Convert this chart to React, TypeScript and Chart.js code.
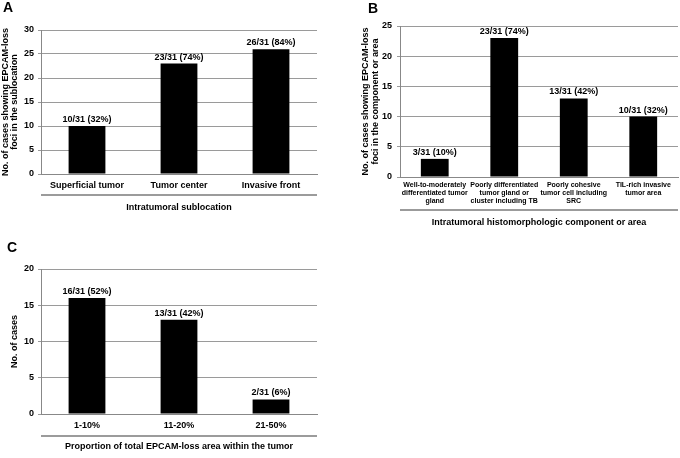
import React, { useEffect, useRef } from "react";
import { Chart, registerables } from "chart.js";
Chart.register(...registerables);

const FONT = '"Liberation Sans", Arial, Helvetica, sans-serif';
Chart.defaults.font.family = FONT;

const catsA = ["Superficial tumor", "Tumor center", "Invasive front"];
const valsA = [10, 23, 26];
const labelsA = ["10/31 (32%)", "23/31 (74%)", "26/31 (84%)"];

const catsB = [
  ["Well-to-moderately", "differentiated tumor", "gland"],
  ["Poorly differentiated", "tumor gland or", "cluster including TB"],
  ["Poorly cohesive", "tumor cell including", "SRC"],
  ["TIL-rich invasive", "tumor area"],
];
const valsB = [3, 23, 13, 10];
const labelsB = ["3/31 (10%)", "23/31 (74%)", "13/31 (42%)", "10/31 (32%)"];

const catsC = ["1-10%", "11-20%", "21-50%"];
const valsC = [16, 13, 2];
const labelsC = ["16/31 (52%)", "13/31 (42%)", "2/31 (6%)"];

const extras = {
  id: "extras",
  afterDatasetsDraw(chart: any, _args: any, opts: any) {
    const ctx = chart.ctx;
    const meta = chart.getDatasetMeta(0);
    ctx.save();
    ctx.font = `bold 9px ${FONT}`;
    ctx.fillStyle = "#000";
    ctx.textAlign = "center";
    ctx.textBaseline = "bottom";
    meta.data.forEach((el: any, i: number) => {
      ctx.fillText(opts.labels[i], el.x, el.y - 2);
    });
    const { left, right, bottom } = chart.chartArea;
    ctx.strokeStyle = "#7a7a7a";
    ctx.lineWidth = 1.5;
    ctx.beginPath();
    ctx.moveTo(left, bottom + opts.sep);
    ctx.lineTo(right, bottom + opts.sep);
    ctx.stroke();
    ctx.restore();
  },
};

function Panel(p: any) {
  const ref = useRef<HTMLCanvasElement>(null);
  useEffect(() => {
    const chart = new Chart(ref.current as HTMLCanvasElement, {
      type: "bar",
      data: {
        labels: p.cats,
        datasets: [
          {
            data: p.vals,
            backgroundColor: "#000",
            borderWidth: 0,
            categoryPercentage: 1,
            barPercentage: 0.4,
          },
        ],
      },
      options: {
        responsive: false,
        maintainAspectRatio: false,
        animation: false,
        layout: { padding: { top: p.padTop, right: p.padRight, left: 0, bottom: 0 } },
        plugins: {
          legend: { display: false },
          tooltip: { enabled: false },
          extras: { labels: p.labels, sep: p.sep },
        } as any,
        scales: {
          x: {
            grid: { display: true, drawOnChartArea: false, drawTicks: false },
            border: { color: "#888", width: 1 },
            ticks: {
              font: p.xTickFont,
              color: "#000",
              padding: p.xTickPad,
              maxRotation: 0,
              autoSkip: false,
            },
            title: {
              display: true,
              text: p.xTitle,
              color: "#000",
              font: { size: 9, weight: "bold", lineHeight: 1.1 },
              padding: { top: 0, bottom: p.xTitlePadBottom },
            },
            afterFit: (s: any) => {
              s.height = p.xHeight;
            },
          },
          y: {
            min: 0,
            max: p.yMax,
            ticks: {
              stepSize: 5,
              color: "#000",
              font: { size: 9, weight: "bold" },
              padding: p.yTickPad,
            },
            grid: { color: "#9a9a9a", tickLength: 3, lineWidth: 1 },
            border: { color: "#888", width: 1 },
            title: {
              display: true,
              text: p.yTitle,
              color: "#000",
              font: { size: 9, weight: "bold", lineHeight: p.yTitleLH },
              padding: { top: p.yTitlePad, bottom: 0 },
            },
            afterFit: (s: any) => {
              s.width = p.yWidth;
            },
          },
        } as any,
      },
      plugins: [extras],
    });
    return () => chart.destroy();
  }, []);
  return (
    <canvas
      ref={ref}
      width={p.width}
      height={p.height}
      style={{ position: "absolute", left: p.left, top: p.top, width: p.width, height: p.height }}
    />
  );
}

const letterStyle: any = {
  position: "absolute",
  fontFamily: FONT,
  fontWeight: "bold",
  fontSize: 14,
  lineHeight: "14px",
  color: "#000",
};

export default function App() {
  useEffect(() => {
    document.body.style.margin = "0";
    document.body.style.background = "#fff";
  }, []);
  return (
    <div style={{ position: "relative", width: 680, height: 458, background: "#fff", overflow: "hidden" }}>
      <Panel
        left={0}
        top={0}
        width={340}
        height={225}
        cats={catsA}
        vals={valsA}
        labels={labelsA}
        yMax={30}
        padTop={30}
        padRight={23}
        yWidth={41}
        xHeight={51}
        yTitle={["No. of cases showing EPCAM-loss", "foci in the sublocation"]}
        yTitleLH={1}
        yTitlePad={1}
        yTickPad={4}
        xTitle="Intratumoral sublocation"
        xTickFont={{ size: 9, weight: "bold" }}
        xTickPad={6}
        xTitlePadBottom={13}
        sep={21}
      />
      <Panel
        left={340}
        top={0}
        width={340}
        height={240}
        cats={catsB}
        vals={valsB}
        labels={labelsB}
        yMax={25}
        padTop={26}
        padRight={2}
        yWidth={60}
        xHeight={63}
        yTitle={["No. of cases showing EPCAM-loss", "foci in the component or area"]}
        yTitleLH={1.1}
        yTitlePad={21}
        yTickPad={5}
        xTitle="Intratumoral histomorphologic component or area"
        xTickFont={{ size: 7, weight: "bold", lineHeight: 1.15 }}
        xTickPad={4}
        xTitlePadBottom={13}
        sep={33}
      />
      <Panel
        left={0}
        top={230}
        width={340}
        height={228}
        cats={catsC}
        vals={valsC}
        labels={labelsC}
        yMax={20}
        padTop={39}
        padRight={23}
        yWidth={41}
        xHeight={44}
        yTitle="No. of cases"
        yTitleLH={1.1}
        yTitlePad={10}
        yTickPad={4}
        xTitle="Proportion of total EPCAM-loss area within the tumor"
        xTickFont={{ size: 9, weight: "bold" }}
        xTickPad={6}
        xTitlePadBottom={7}
        sep={22}
      />
      <div style={{ ...letterStyle, left: 3, top: 0 }}>A</div>
      <div style={{ ...letterStyle, left: 368, top: 1 }}>B</div>
      <div style={{ ...letterStyle, left: 7, top: 240 }}>C</div>
    </div>
  );
}
